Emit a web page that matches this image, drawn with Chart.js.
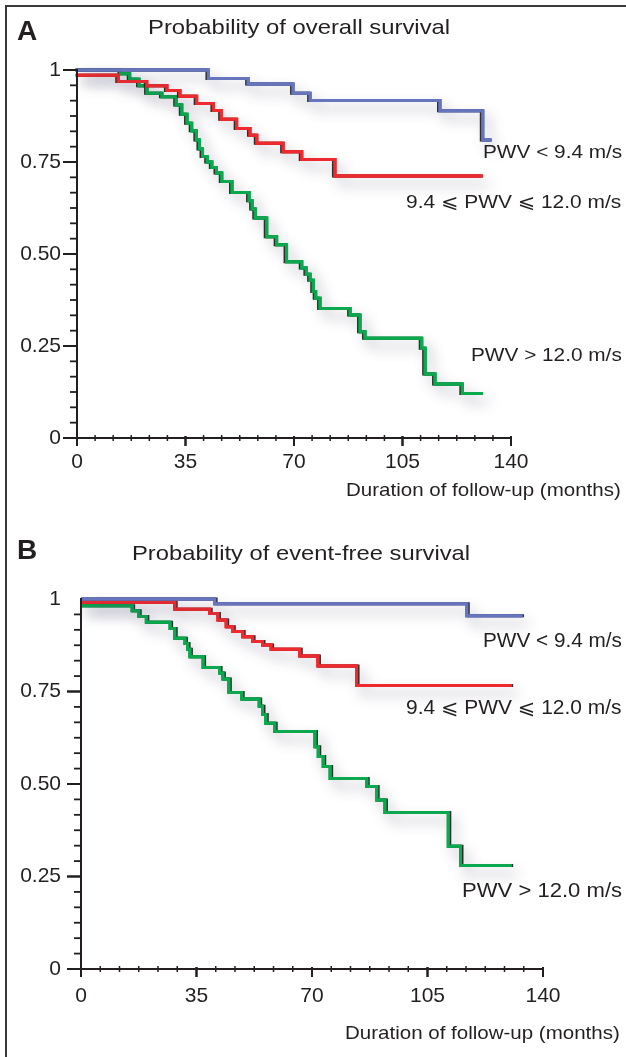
<!DOCTYPE html>
<html><head><meta charset="utf-8">
<script src="https://cdn.jsdelivr.net/npm/chart.js@4.4.0/dist/chart.umd.min.js"></script>
<style>
html,body{margin:0;padding:0;width:626px;height:1057px;overflow:hidden;background:#fff;}
.fl{position:absolute;background:#3a3a3a;}
.cv{position:absolute;left:0;width:626px;}
.t{position:absolute;white-space:nowrap;font-family:"Liberation Sans","DejaVu Sans",Arial,sans-serif;color:#231f20;line-height:1;transform-origin:0 0;}
</style></head>
<body>
<div class="fl" style="left:5px;top:5px;width:621px;height:2px"></div>
<div class="fl" style="left:5px;top:5px;width:2px;height:1052px"></div>
<div class="cv" style="top:0;height:520px"><canvas id="cA"></canvas></div>
<div class="cv" style="top:520px;height:537px"><canvas id="cB"></canvas></div>

<div class="t" style="font-weight:bold" data-l="17" data-b="41" data-s="28">A</div>
<div class="t" data-l="148" data-r="450" data-b="33.3" data-s="21">Probability of overall survival</div>
<div class="t" data-l="482.7" data-r="621.7" data-b="158.5" data-s="19">PWV &lt; 9.4 m/s</div>
<div class="t" data-l="406" data-r="621.7" data-b="208.3" data-s="19">9.4 ⩽ PWV ⩽ 12.0 m/s</div>
<div class="t" data-l="470.7" data-r="621.7" data-b="360.7" data-s="19">PWV &gt; 12.0 m/s</div>
<div class="t" data-l="346" data-r="621" data-b="497" data-s="18.5">Duration of follow-up (months)</div>

<div class="t" style="font-weight:bold" data-l="17" data-b="560" data-s="28">B</div>
<div class="t" data-l="131.7" data-r="470" data-b="560" data-s="21">Probability of event-free survival</div>
<div class="t" data-l="482.7" data-r="621.7" data-b="646.5" data-s="20">PWV &lt; 9.4 m/s</div>
<div class="t" data-l="406" data-r="621.7" data-b="713.5" data-s="20">9.4 ⩽ PWV ⩽ 12.0 m/s</div>
<div class="t" data-l="461.7" data-r="621.7" data-b="896.5" data-s="20">PWV &gt; 12.0 m/s</div>
<div class="t" data-l="345" data-r="620" data-b="1040" data-s="18.5">Duration of follow-up (months)</div>

<script>
// ---------- DATA ----------
const xTickValues = [0, 35, 70, 105, 140];
const xTickLabels = ['0', '35', '70', '105', '140'];
const yTickValues = [0, 0.25, 0.5, 0.75, 1];
const yTickLabels = ['0', '0.25', '0.50', '0.75', '1'];

// Panel A: overall survival (time in months, survival probability)
const osLowTimes = [0, 42.4, 55.2, 69.7, 75.2, 117.1, 130.9, 133.8];
const osLowSurv  = [1.0, 0.977, 0.962, 0.937, 0.917, 0.889, 0.81, 0.81];

const osMidTimes = [0, 13.3, 22.5, 29, 33.2, 38.6, 44, 46.5, 51.5, 55.8, 58, 66.5, 72.5, 83.2, 130.9];
const osMidSurv  = [0.986, 0.969, 0.957, 0.944, 0.929, 0.909, 0.89, 0.866, 0.841, 0.823, 0.801, 0.778, 0.757, 0.712, 0.712];

const osHighTimes = [0, 14, 17, 20, 22.6, 27.4, 32, 33.8, 35.5, 37, 38.5, 39.5, 40.5, 42, 43.5, 45, 46.7, 50, 55.5, 56.5, 57.5, 61.2, 64.4, 67.6, 72.5, 74, 75.2, 76.2, 77, 78.4, 88.1, 91.3, 92.9, 111.2, 112.3, 115.5, 124.3, 130.9];
const osHighSurv  = [1.0, 0.99, 0.975, 0.957, 0.937, 0.927, 0.905, 0.88, 0.855, 0.835, 0.81, 0.785, 0.765, 0.75, 0.735, 0.72, 0.697, 0.667, 0.645, 0.622, 0.598, 0.547, 0.525, 0.479, 0.462, 0.445, 0.429, 0.398, 0.38, 0.352, 0.334, 0.289, 0.271, 0.244, 0.174, 0.147, 0.121, 0.121];

// Panel B: event-free survival
const efLowTimes = [0, 40.5, 116.9, 133.8];
const efLowSurv  = [1.0, 0.987, 0.955, 0.955];

const efMidTimes = [0, 28.4, 39, 41.5, 44, 46, 49, 52, 55, 57.6, 66.3, 71.8, 83.5, 130.5];
const efMidSurv  = [0.991, 0.972, 0.961, 0.943, 0.925, 0.912, 0.898, 0.885, 0.876, 0.864, 0.846, 0.819, 0.766, 0.766];

const efHighTimes = [0, 14.7, 15.5, 17.5, 19.8, 26.4, 27, 28.4, 31.5, 32.3, 33, 37, 42, 43, 44.8, 48.7, 53.1, 54, 55, 56, 58.7, 70.9, 71.9, 73.4, 75.5, 86.6, 89.6, 92.1, 111.3, 115, 130.5];
const efHighSurv  = [0.982, 0.982, 0.968, 0.953, 0.937, 0.937, 0.92, 0.894, 0.88, 0.864, 0.844, 0.815, 0.8, 0.784, 0.747, 0.73, 0.73, 0.71, 0.688, 0.664, 0.642, 0.601, 0.574, 0.547, 0.515, 0.493, 0.457, 0.423, 0.332, 0.28, 0.28];

// ---------- STYLE ----------
const BLUE = '#6675bd', RED = '#ee2a2e', GREEN = '#0ba84e', INK = '#231f20';
const FONT = '"Liberation Sans", Arial, sans-serif';
Chart.defaults.font.family = FONT;
Chart.defaults.color = INK;

function pts(t, s) { return t.map((x, i) => ({ x: x, y: s[i] })); }
function ds(t, s, color) {
  return { data: pts(t, s), borderColor: color, borderWidth: 3, pointRadius: 0, stepped: 'before', fill: false, clip: false, borderCapStyle: 'butt', borderJoinStyle: 'miter' };
}

const shadowPlugin = {
  id: 'kmShadow',
  beforeDatasetDraw(chart) { const c = chart.ctx; c.save(); c.shadowColor = 'rgba(70,72,105,0.45)'; c.shadowBlur = 13; c.shadowOffsetX = 6; c.shadowOffsetY = 8; },
  afterDatasetDraw(chart, args, o) {
    const c = chart.ctx; c.restore();
    // thin dark edge beside each line, as in the printed figure
    c.save();
    c.shadowColor = 'rgba(25,25,25,0.9)'; c.shadowBlur = 0; c.shadowOffsetX = o.edge; c.shadowOffsetY = 0;
    args.meta.dataset.draw(c, chart.chartArea);
    c.restore();
    args.meta.dataset.draw(c, chart.chartArea);
  }
};

const axisPlugin = {
  id: 'kmAxes',
  afterDatasetsDraw(chart, args, o) {
    const ctx = chart.ctx, xs = chart.scales.x, ys = chart.scales.y;
    const x0 = xs.getPixelForValue(xTickValues[0]);
    const y0 = ys.getPixelForValue(yTickValues[0]);
    const xEnd = xs.getPixelForValue(xTickValues[xTickValues.length - 1]);
    const yTop = ys.getPixelForValue(yTickValues[yTickValues.length - 1]);
    ctx.save();
    ctx.strokeStyle = INK; ctx.lineCap = 'butt';
    ctx.lineWidth = 2;
    ctx.beginPath(); ctx.moveTo(x0, yTop - 1); ctx.lineTo(x0, y0 + 8); ctx.stroke();
    ctx.beginPath(); ctx.moveTo(x0 - 14, y0); ctx.lineTo(xEnd + 1, y0); ctx.stroke();
    const n = 6;
    for (let k = 0; k < yTickValues.length - 1; k++) {
      const a = yTickValues[k], b = yTickValues[k + 1];
      for (let j = 0; j <= n; j++) {
        const v = a + (b - a) * j / n;
        const p = ys.getPixelForValue(v);
        const major = (j === 0 || j === n);
        if (major && j === n && k === yTickValues.length - 2 && !o.topMajor) continue;
        ctx.lineWidth = major ? 2 : 1.8;
        ctx.beginPath(); ctx.moveTo(x0 - (major ? 14 : 7), p); ctx.lineTo(x0, p); ctx.stroke();
      }
    }
    for (let k = 0; k < xTickValues.length - 1; k++) {
      const a = xTickValues[k], b = xTickValues[k + 1];
      for (let j = 0; j <= n; j++) {
        const v = a + (b - a) * j / n;
        const p = xs.getPixelForValue(v);
        const major = (j === 0 || j === n);
        ctx.lineWidth = major ? 2 : 1.5;
        ctx.beginPath();
        if (major) { ctx.moveTo(p, y0 - 2); ctx.lineTo(p, y0 + 8); }
        else { ctx.moveTo(p, y0 - 3); ctx.lineTo(p, y0 + 3); }
        ctx.stroke();
      }
    }
    ctx.restore();
  }
};

function makeChart(id, datasets, cfg) {
  return new Chart(document.getElementById(id), {
    type: 'line',
    data: { datasets: datasets },
    plugins: [shadowPlugin, axisPlugin],
    options: {
      responsive: true, maintainAspectRatio: false, animation: false,
      layout: { padding: cfg.padding },
      plugins: { legend: { display: false }, tooltip: { enabled: false }, title: { display: false },
        kmAxes: { topMajor: cfg.topMajor }, kmShadow: { edge: cfg.edge } },
      scales: {
        x: {
          type: 'linear', min: xTickValues[0], max: xTickValues[xTickValues.length - 1],
          afterBuildTicks: s => { s.ticks = xTickValues.map(v => ({ value: v })); },
          afterFit: s => { s.height = cfg.xHeight; },
          grid: { display: false, drawTicks: false }, border: { display: false },
          ticks: { autoSkip: false, maxRotation: 0, padding: cfg.xPad, font: { size: 21 }, color: INK, callback: (v, i) => xTickLabels[i] }
        },
        y: {
          type: 'linear', min: yTickValues[0], max: yTickValues[yTickValues.length - 1],
          afterBuildTicks: s => { s.ticks = yTickValues.map(v => ({ value: v })); },
          afterFit: s => { s.width = cfg.yWidth; },
          grid: { display: false, drawTicks: false }, border: { display: false },
          ticks: { autoSkip: false, padding: cfg.yPad, font: { size: 21 }, color: INK, callback: (v, i) => yTickLabels[i] }
        }
      }
    }
  });
}

makeChart('cA', [ds(osLowTimes, osLowSurv, BLUE), ds(osMidTimes, osMidSurv, RED), ds(osHighTimes, osHighSurv, GREEN)],
  { padding: { left: 0, right: 115, top: 70, bottom: 42 }, yWidth: 77, xHeight: 40, yPad: 16, xPad: 12, topMajor: true, edge: -1.5 });
makeChart('cB', [ds(efLowTimes, efLowSurv, BLUE), ds(efMidTimes, efMidSurv, RED), ds(efHighTimes, efHighSurv, GREEN)],
  { padding: { left: 0, right: 83, top: 79, bottom: 48 }, yWidth: 81, xHeight: 40, yPad: 20, xPad: 15, topMajor: false, edge: 1.5 });

// ---------- text placement ----------
function placeText() {
  document.querySelectorAll('.t').forEach(el => {
    const s = parseFloat(el.dataset.s);
    el.style.transform = 'none';
    el.style.fontSize = s + 'px';
    el.style.left = el.dataset.l + 'px';
    el.style.top = (parseFloat(el.dataset.b) - 0.8465 * s) + 'px';
    if (el.dataset.r) {
      const w = el.offsetWidth;
      const target = parseFloat(el.dataset.r) - parseFloat(el.dataset.l);
      el.style.transform = 'scaleX(' + (target / w) + ')';
    }
  });
}
placeText();
if (document.fonts && document.fonts.ready) document.fonts.ready.then(placeText);
</script>
</body></html>
